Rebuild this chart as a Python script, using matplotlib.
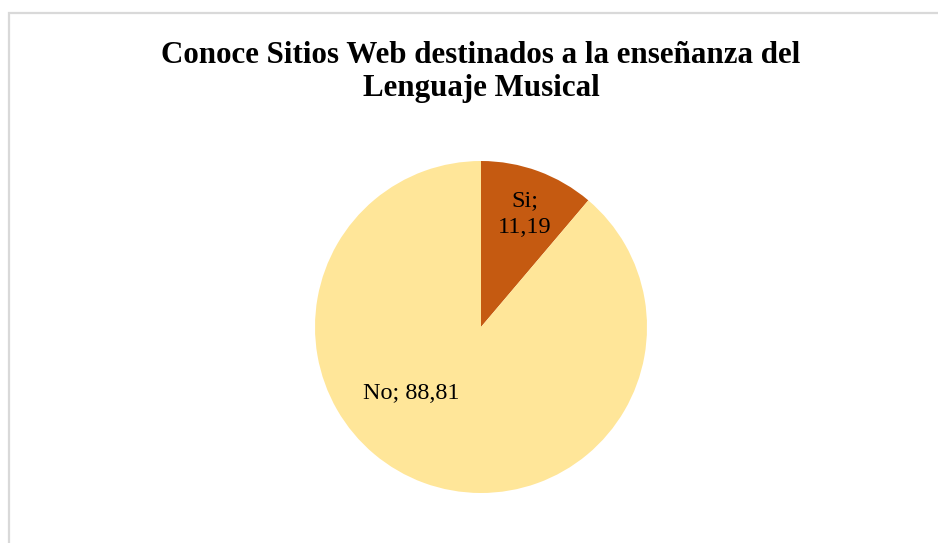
import numpy as np
import matplotlib
matplotlib.use('Agg')
import matplotlib.pyplot as plt
from matplotlib.patches import Rectangle

# respuestas (%)
labels = ['Si', 'No']
values = [11.19, 88.81]
colors = ['#C55A11', '#FFE699']
title = 'Conoce Sitios Web destinados a la enseñanza del\nLenguaje Musical'

plt.rcParams['font.family'] = ['Liberation Serif', 'DejaVu Serif']

W, H = 938, 543
fig = plt.figure(figsize=(W / 100, H / 100), dpi=100)

# marco gris del grafico (sale por la derecha y abajo)
fig.patches.append(Rectangle((9 / W, -0.05), 1.0, 1 - 13 / H + 0.05,
                             transform=fig.transFigure, fill=False,
                             edgecolor='#d9d9d9', linewidth=1.6))

fig.text(481 / W, 1 - 72 / H, title, ha='center', va='center',
         fontsize=22.3, fontweight='bold', linespacing=1.17)

# pie centrado en (481, 327) px, radio 166 px
cx, cy, r = 481, 327, 166
ax = fig.add_axes([(cx - r) / W, (H - cy - r) / H, 2 * r / W, 2 * r / H])
wedges, _ = ax.pie(values, colors=colors, startangle=90, counterclock=False,
                   wedgeprops=dict(linewidth=0))
ax.set_xlim(-1, 1)
ax.set_ylim(-1, 1)
ax.set_aspect('equal')
ax.axis('off')

# etiquetas de datos
ax.text(0.265, 0.68, f'{labels[0]};\n{values[0]:.2f}'.replace('.', ','),
        ha='center', va='center', fontsize=17.5, linespacing=1.42)
ax.text(-0.42, -0.40, f'{labels[1]}; {values[1]:.2f}'.replace('.', ','),
        ha='center', va='center', fontsize=17.5)

fig.savefig('out.png', dpi=100, facecolor='white')
